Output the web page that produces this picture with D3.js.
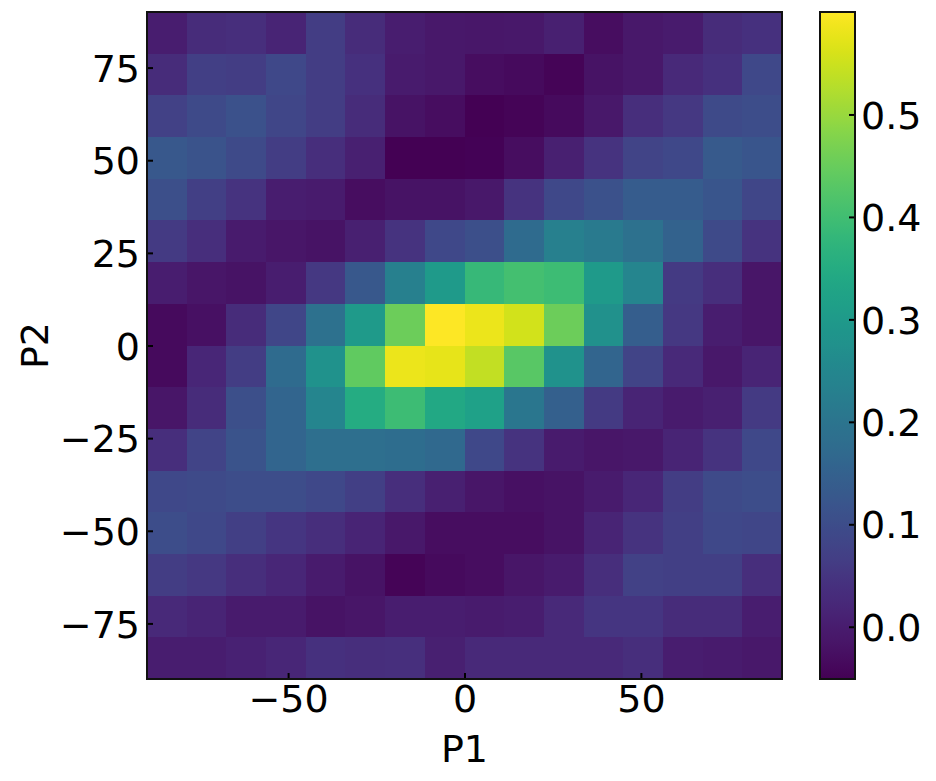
<!DOCTYPE html>
<html>
<head>
<meta charset="utf-8">
<title>P1 / P2 heatmap</title>
<style>
  body { margin: 0; background: #fff; }
  svg text { font-family: "DejaVu Sans", sans-serif; fill: #000; }
</style>
<script src="https://d3js.org/d3.v7.min.js"></script>
</head>
<body>
<svg></svg>
<script>
// bin edges along P1 (x) and P2 (y): 16 bins from -90 to 90
const p1Edges = d3.range(17).map(i => -90 + i * 11.25);
const p2Edges = d3.range(17).map(i => -90 + i * 11.25);

const xTicks = [-50, 0, 50];
const yTicks = [-75, -50, -25, 0, 25, 50, 75];
const cbTicks = [0.0, 0.1, 0.2, 0.3, 0.4, 0.5];
const cbDomain = [-0.051, 0.6];

// rows listed from top (P2 = 90) to bottom (P2 = -90), columns left to right
const grid = [
  [0.000, 0.030, 0.035, 0.015, 0.065, 0.030, 0.000, -0.010, -0.012, -0.010, 0.005, -0.030, -0.010, -0.005, 0.030, 0.040],
  [0.030, 0.070, 0.065, 0.090, 0.065, 0.040, -0.005, -0.010, -0.030, -0.035, -0.045, -0.020, -0.010, 0.025, 0.040, 0.090],
  [0.075, 0.095, 0.110, 0.085, 0.065, 0.030, -0.020, -0.030, -0.050, -0.045, -0.035, -0.010, 0.035, 0.055, 0.095, 0.100],
  [0.125, 0.115, 0.095, 0.065, 0.035, 0.005, -0.050, -0.051, -0.048, -0.030, 0.005, 0.045, 0.080, 0.090, 0.130, 0.120],
  [0.105, 0.070, 0.045, 0.000, -0.005, -0.030, -0.020, -0.020, -0.010, 0.045, 0.090, 0.110, 0.135, 0.135, 0.120, 0.085],
  [0.060, 0.035, -0.005, -0.015, -0.020, 0.005, 0.045, 0.090, 0.105, 0.175, 0.230, 0.215, 0.190, 0.150, 0.095, 0.045],
  [0.000, -0.015, -0.020, 0.000, 0.055, 0.125, 0.230, 0.300, 0.385, 0.405, 0.395, 0.300, 0.245, 0.060, 0.035, -0.015],
  [-0.035, -0.025, 0.030, 0.085, 0.190, 0.300, 0.455, 0.598, 0.580, 0.555, 0.455, 0.275, 0.140, 0.055, 0.000, -0.015],
  [-0.035, 0.020, 0.065, 0.175, 0.280, 0.440, 0.580, 0.575, 0.540, 0.430, 0.280, 0.160, 0.080, 0.025, -0.010, 0.015],
  [-0.015, 0.030, 0.105, 0.160, 0.245, 0.350, 0.395, 0.340, 0.320, 0.205, 0.145, 0.060, 0.015, -0.005, 0.005, 0.060],
  [0.035, 0.080, 0.115, 0.160, 0.185, 0.185, 0.180, 0.170, 0.090, 0.045, -0.005, -0.015, -0.010, 0.015, 0.045, 0.090],
  [0.090, 0.095, 0.100, 0.100, 0.090, 0.070, 0.035, 0.005, -0.015, -0.025, -0.020, -0.005, 0.020, 0.065, 0.095, 0.100],
  [0.100, 0.090, 0.070, 0.050, 0.035, 0.015, -0.010, -0.030, -0.030, -0.030, -0.020, 0.015, 0.045, 0.070, 0.090, 0.085],
  [0.065, 0.055, 0.035, 0.020, -0.005, -0.020, -0.045, -0.035, -0.030, -0.015, -0.005, 0.035, 0.075, 0.070, 0.070, 0.035],
  [0.025, 0.015, -0.005, -0.005, -0.020, -0.015, 0.000, 0.000, -0.005, 0.000, 0.025, 0.050, 0.050, 0.030, 0.030, 0.000],
  [0.000, 0.000, 0.010, 0.020, 0.040, 0.035, 0.038, 0.005, 0.025, 0.025, 0.025, 0.025, 0.035, 0.000, -0.005, -0.010]
];

const width = 936, height = 781;
const plot = { left: 147, right: 782, top: 12, bottom: 679 };
const cb = { left: 820, right: 855 };

const svg = d3.select('svg').attr('width', width).attr('height', height);

const x = d3.scaleLinear().domain([-90, 90]).range([plot.left, plot.right]);
const y = d3.scaleLinear().domain([-90, 90]).range([plot.bottom, plot.top]);
const color = d3.scaleSequential(d3.interpolateViridis).domain(cbDomain);

const cells = [];
grid.forEach((row, r) => {
  const j = 15 - r; // row 0 is the top bin
  row.forEach((v, i) => cells.push({ x0: p1Edges[i], x1: p1Edges[i + 1], y0: p2Edges[j], y1: p2Edges[j + 1], v }));
});

svg.append('g').selectAll('rect')
  .data(cells)
  .enter().append('rect')
  .attr('x', d => x(d.x0))
  .attr('y', d => y(d.y1))
  .attr('width', d => x(d.x1) - x(d.x0) + 0.5)
  .attr('height', d => y(d.y0) - y(d.y1) + 0.5)
  .attr('shape-rendering', 'crispEdges')
  .style('fill', d => color(d.v));

// axes, ticks pointing inward
const fs = 38;
const xAxis = svg.append('g')
  .attr('transform', 'translate(0,' + plot.bottom + ')')
  .call(d3.axisBottom(x).tickValues(xTicks).tickSizeInner(-6).tickSizeOuter(0).tickPadding(6));
const yAxis = svg.append('g')
  .attr('transform', 'translate(' + plot.left + ',0)')
  .call(d3.axisLeft(y).tickValues(yTicks).tickSizeInner(-6).tickSizeOuter(0).tickPadding(7));

[xAxis, yAxis].forEach(a => {
  a.select('.domain').remove();
  a.selectAll('.tick line').attr('stroke', '#000').attr('stroke-width', 2);
  a.selectAll('.tick text').style('font-size', fs + 'px').attr('fill', '#000');
});
yAxis.selectAll('.tick text').attr('dy', '0.36em');

svg.append('rect')
  .attr('x', plot.left).attr('y', plot.top)
  .attr('width', plot.right - plot.left).attr('height', plot.bottom - plot.top)
  .attr('fill', 'none').attr('stroke', '#111').attr('stroke-width', 2);

svg.append('text')
  .attr('x', (plot.left + plot.right) / 2).attr('y', 762)
  .attr('text-anchor', 'middle')
  .style('font-size', fs + 'px')
  .text('P1');

svg.append('text')
  .attr('transform', 'translate(48,' + (plot.top + plot.bottom) / 2 + ')rotate(-90)')
  .attr('text-anchor', 'middle')
  .style('font-size', fs + 'px')
  .text('P2');

// colorbar
const cbY = d3.scaleLinear().domain(cbDomain).range([plot.bottom, plot.top]);
const grad = svg.append('defs').append('linearGradient')
  .attr('id', 'viridis').attr('x1', 0).attr('y1', 1).attr('x2', 0).attr('y2', 0);
d3.range(0, 1.0001, 0.02).forEach(t => {
  grad.append('stop').attr('offset', t).attr('stop-color', d3.interpolateViridis(t));
});
svg.append('rect')
  .attr('x', cb.left).attr('y', plot.top)
  .attr('width', cb.right - cb.left).attr('height', plot.bottom - plot.top)
  .attr('fill', 'url(#viridis)');

const cbAxis = svg.append('g')
  .attr('transform', 'translate(' + cb.right + ',0)')
  .call(d3.axisRight(cbY).tickValues(cbTicks).tickFormat(d3.format('.1f')).tickSizeInner(-6).tickSizeOuter(0).tickPadding(6));
cbAxis.select('.domain').remove();
cbAxis.selectAll('.tick line').attr('stroke', '#000').attr('stroke-width', 2);
cbAxis.selectAll('.tick text').style('font-size', fs + 'px').attr('fill', '#000').attr('dy', '0.36em');

svg.append('rect')
  .attr('x', cb.left).attr('y', plot.top)
  .attr('width', cb.right - cb.left).attr('height', plot.bottom - plot.top)
  .attr('fill', 'none').attr('stroke', '#111').attr('stroke-width', 2);
</script>
</body>
</html>
